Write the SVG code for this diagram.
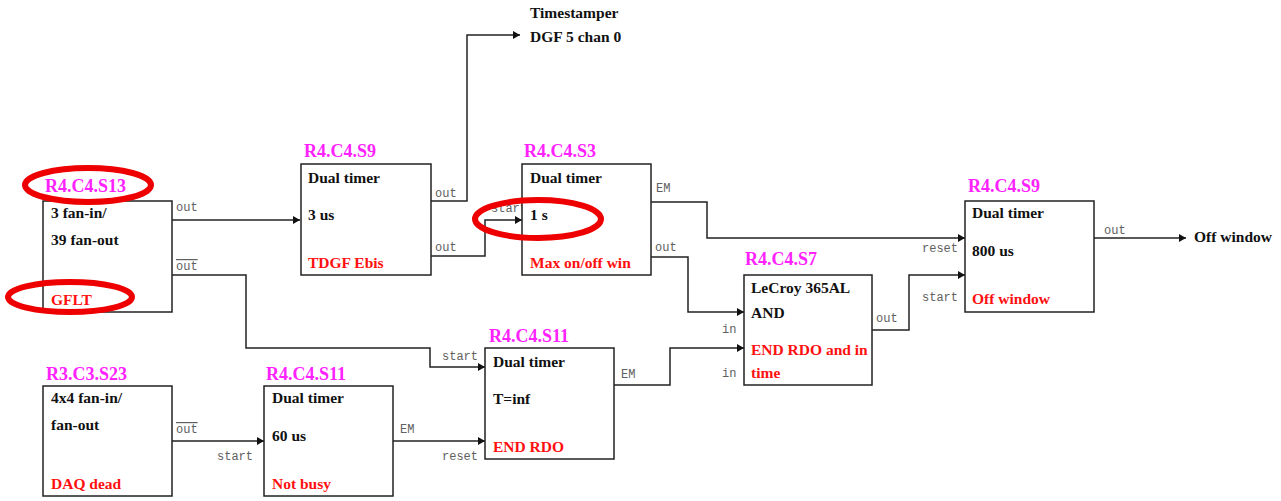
<svg xmlns="http://www.w3.org/2000/svg" width="1281" height="501" viewBox="0 0 1281 501">
<style>
.box{fill:#fff;stroke:#222;stroke-width:1.5}
.w{fill:none;stroke:#222;stroke-width:1.5}
.t{font-family:"Liberation Serif",serif;font-weight:bold;font-size:15.5px;fill:#111}
.r{font-family:"Liberation Serif",serif;font-weight:bold;font-size:15.5px;fill:#ff1010}
.id{font-family:"Liberation Serif",serif;font-weight:bold;font-size:18px;fill:#ff22ff}
.p{font-family:"Liberation Mono",monospace;font-size:12px;fill:#606060}
.ol{text-decoration:overline}
.e{fill:none;stroke:#ee0000;stroke-width:6}
</style>
<defs>
<marker id="a" markerWidth="8" markerHeight="8" refX="7" refY="4" orient="auto" markerUnits="userSpaceOnUse">
<path d="M0,0 L7,4 L0,8 z" fill="#111"/>
</marker>
</defs>
<g id="connectors">
<path class="w" d="M172,220 H300" marker-end="url(#a)"/>
<path class="w" d="M172,275 H246 V348 H430 V367 H485" marker-end="url(#a)"/>
<path class="w" d="M431,201 H467 V35 H520" marker-end="url(#a)"/>
<path class="w" d="M431,256 H485 V220 H522" marker-end="url(#a)"/>
<path class="w" d="M651,202 H707 V238 H965" marker-end="url(#a)"/>
<path class="w" d="M651,257 H688 V312 H744" marker-end="url(#a)"/>
<path class="w" d="M614,385 H670 V348 H744" marker-end="url(#a)"/>
<path class="w" d="M872,330 H909 V275 H965" marker-end="url(#a)"/>
<path class="w" d="M1094,238 H1186" marker-end="url(#a)"/>
<path class="w" d="M172,441 H264" marker-end="url(#a)"/>
<path class="w" d="M393,441 H485" marker-end="url(#a)"/>
<text class="p" x="176" y="211">out</text>
<text class="p ol" x="176" y="270">out</text>
<text class="p" x="435" y="197">out</text>
<text class="p" x="435" y="251">out</text>
<text class="p" x="491" y="212">start</text>
<text class="p" x="656" y="192">EM</text>
<text class="p" x="655" y="251">out</text>
<text class="p" x="922" y="252">reset</text>
<text class="p" x="922" y="301">start</text>
<text class="p" x="876" y="322">out</text>
<text class="p" x="722" y="333">in</text>
<text class="p" x="722" y="377">in</text>
<text class="p" x="621" y="378">EM</text>
<text class="p" x="1104" y="234">out</text>
<text class="p" x="442" y="360">start</text>
<text class="p" x="442" y="460">reset</text>
<text class="p ol" x="176" y="433">out</text>
<text class="p" x="217" y="460">start</text>
<text class="p" x="400" y="433">EM</text>
<text class="t" x="530" y="18">Timestamper</text>
<text class="t" x="530" y="42">DGF 5 chan 0</text>
<text class="t" x="1194" y="242">Off window</text>
</g>
<g id="n_s13">
<rect class="box" x="43" y="201" width="129" height="111"/>
<text class="id" x="45" y="192">R4.C4.S13</text>
<text class="t" x="51" y="218">3 fan-in/</text>
<text class="t" x="51" y="245">39 fan-out</text>
<text class="r" x="51" y="305">GFLT</text>
</g>
<g id="n_s9a">
<rect class="box" x="301" y="164" width="130" height="111"/>
<text class="id" x="304" y="157">R4.C4.S9</text>
<text class="t" x="308" y="183">Dual timer</text>
<text class="t" x="308" y="220">3 us</text>
<text class="r" x="308" y="268">TDGF Ebis</text>
</g>
<g id="n_s3">
<rect class="box" x="522" y="164" width="129" height="111"/>
<text class="id" x="524" y="157">R4.C4.S3</text>
<text class="t" x="530" y="183">Dual timer</text>
<text class="t" x="530" y="220">1 s</text>
<text class="r" x="530" y="268">Max on/off win</text>
</g>
<g id="n_s7">
<rect class="box" x="744" y="275" width="128" height="110"/>
<text class="id" x="745" y="265">R4.C4.S7</text>
<text class="t" x="751" y="293">LeCroy 365AL</text>
<text class="t" x="751" y="318">AND</text>
<text class="r" x="751" y="355">END RDO and in</text>
<text class="r" x="751" y="378">time</text>
</g>
<g id="n_s9b">
<rect class="box" x="965" y="201" width="129" height="111"/>
<text class="id" x="968" y="192">R4.C4.S9</text>
<text class="t" x="972" y="218">Dual timer</text>
<text class="t" x="972" y="256">800 us</text>
<text class="r" x="972" y="304">Off window</text>
</g>
<g id="n_s23">
<rect class="box" x="43" y="386" width="129" height="110"/>
<text class="id" x="46" y="380">R3.C3.S23</text>
<text class="t" x="51" y="403">4x4 fan-in/</text>
<text class="t" x="51" y="430">fan-out</text>
<text class="r" x="51" y="489">DAQ dead</text>
</g>
<g id="n_s11a">
<rect class="box" x="264" y="386" width="129" height="110"/>
<text class="id" x="266" y="380">R4.C4.S11</text>
<text class="t" x="272" y="403">Dual timer</text>
<text class="t" x="272" y="441">60 us</text>
<text class="r" x="272" y="489">Not busy</text>
</g>
<g id="n_s11b">
<rect class="box" x="485" y="348" width="129" height="111"/>
<text class="id" x="489" y="342">R4.C4.S11</text>
<text class="t" x="493" y="367">Dual timer</text>
<text class="t" x="493" y="404">T=inf</text>
<text class="r" x="493" y="452">END RDO</text>
</g>
<g id="highlights">
<ellipse class="e" cx="88" cy="185" rx="63" ry="17"/>
<ellipse class="e" cx="70" cy="297" rx="62" ry="15"/>
<ellipse class="e" cx="538" cy="219" rx="63" ry="19"/>
</g>
</svg>
